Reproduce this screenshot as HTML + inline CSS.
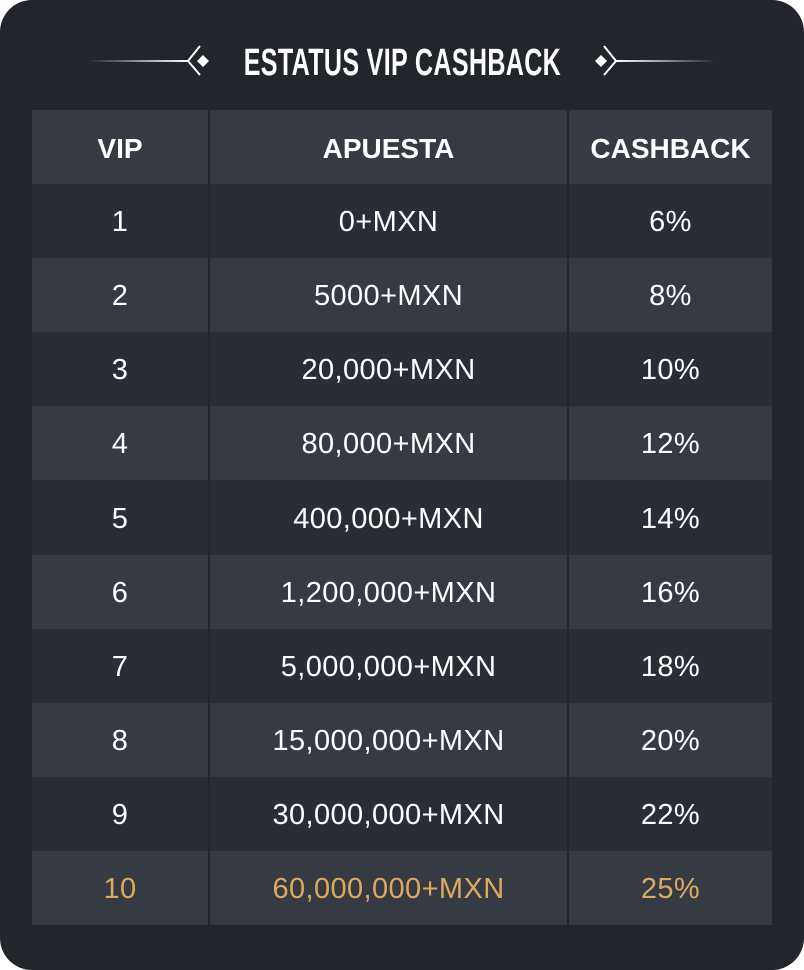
<!DOCTYPE html>
<html><head><meta charset="utf-8"><style>
html,body{margin:0;padding:0;background:#fff;}
#card{position:absolute;left:0;top:0;width:804px;height:970px;background:#22252c;border-radius:32px;overflow:hidden;font-family:"Liberation Sans",sans-serif;}
#title{position:absolute;left:0;width:804px;top:40px;height:46px;text-align:center;color:#fff;font-weight:bold;font-size:38px;line-height:46px;}
#title span{display:inline-block;transform:scaleX(0.66);letter-spacing:0.5px;}
#tbl{position:absolute;left:32px;top:110px;width:740px;}
.row{display:flex;height:74.1px;}
.c{display:flex;align-items:center;justify-content:center;color:#fff;font-size:29px;letter-spacing:0.4px;padding-top:3px;box-sizing:border-box;}
.c1{width:176px;}.c2{width:357px;margin-left:2px;margin-right:2px;}.c3{width:203px;}
.light .c{background:#363a43;}
.dark .c{background:#2a2d35;}
.hdr .c{font-weight:bold;font-size:28px;letter-spacing:0;padding-top:4px;}
.gold .c{color:#dcaa5e;}
</style></head><body>
<div id="card">
<svg width="804" height="120" style="position:absolute;left:0;top:0">
<defs>
<linearGradient id="gl" x1="0" x2="1"><stop offset="0" stop-color="#fff" stop-opacity="0"/><stop offset="1" stop-color="#fff"/></linearGradient>
<linearGradient id="gr" x1="1" x2="0"><stop offset="0" stop-color="#fff" stop-opacity="0"/><stop offset="1" stop-color="#fff"/></linearGradient>
</defs>
<rect x="88" y="60" width="100" height="2" fill="url(#gl)"/>
<polyline points="200,46 188,61 200,75" fill="none" stroke="#fff" stroke-width="2"/>
<polygon points="203,55 209,61 203,67 197,61" fill="#fff"/>
<rect x="616" y="60" width="100" height="2" fill="url(#gr)"/>
<polyline points="604,46 616,61 604,75" fill="none" stroke="#fff" stroke-width="2"/>
<polygon points="601,55 607,61 601,67 595,61" fill="#fff"/>
</svg>
<div id="title"><span>ESTATUS VIP CASHBACK</span></div>
<div id="tbl">
<div class="row light hdr"><div class="c c1">VIP</div><div class="c c2">APUESTA</div><div class="c c3">CASHBACK</div></div>
<div class="row dark"><div class="c c1">1</div><div class="c c2">0+MXN</div><div class="c c3">6%</div></div>
<div class="row light"><div class="c c1">2</div><div class="c c2">5000+MXN</div><div class="c c3">8%</div></div>
<div class="row dark"><div class="c c1">3</div><div class="c c2">20,000+MXN</div><div class="c c3">10%</div></div>
<div class="row light"><div class="c c1">4</div><div class="c c2">80,000+MXN</div><div class="c c3">12%</div></div>
<div class="row dark"><div class="c c1">5</div><div class="c c2">400,000+MXN</div><div class="c c3">14%</div></div>
<div class="row light"><div class="c c1">6</div><div class="c c2">1,200,000+MXN</div><div class="c c3">16%</div></div>
<div class="row dark"><div class="c c1">7</div><div class="c c2">5,000,000+MXN</div><div class="c c3">18%</div></div>
<div class="row light"><div class="c c1">8</div><div class="c c2">15,000,000+MXN</div><div class="c c3">20%</div></div>
<div class="row dark"><div class="c c1">9</div><div class="c c2">30,000,000+MXN</div><div class="c c3">22%</div></div>
<div class="row light gold"><div class="c c1">10</div><div class="c c2">60,000,000+MXN</div><div class="c c3">25%</div></div>
</div>
</div>
</body></html>
